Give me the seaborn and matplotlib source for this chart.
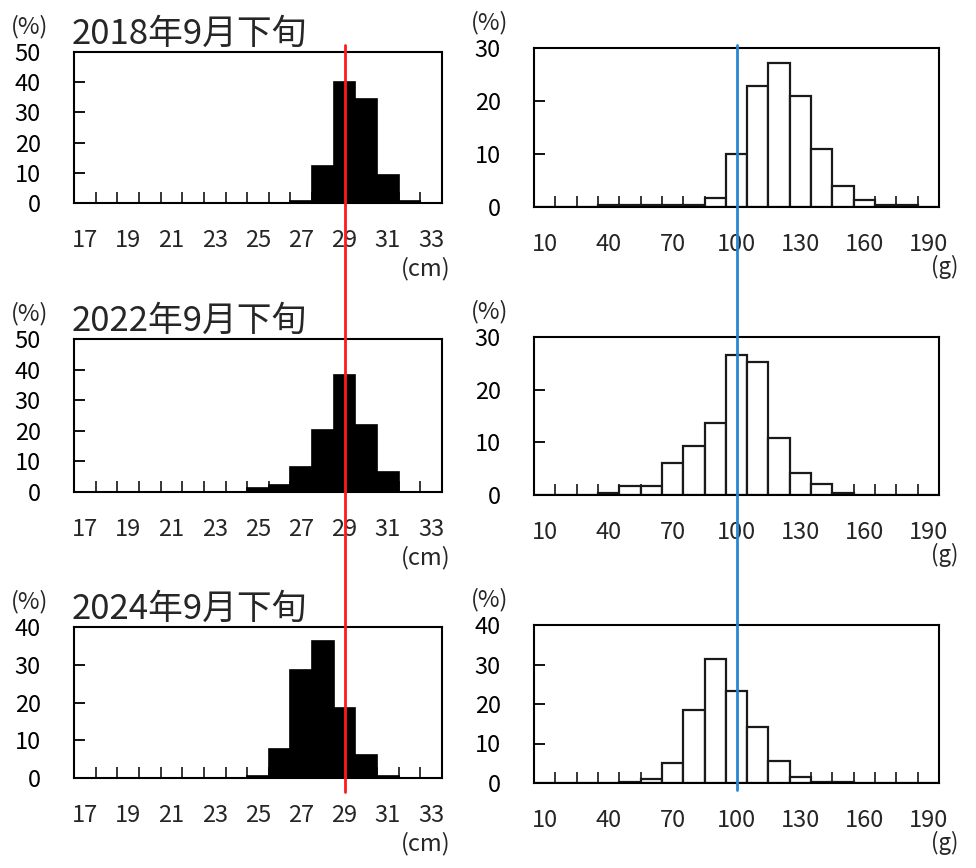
import numpy as np
import matplotlib
matplotlib.use("Agg")
import matplotlib.pyplot as plt
import matplotlib.transforms as mtransforms
from matplotlib.lines import Line2D
import pandas as pd
import seaborn as sns

# data: percent of fish in each size class
years = ["2018年9月下旬", "2022年9月下旬", "2024年9月下旬"]

len_classes = list(range(17, 34))  # cm, class centres
len_2018 = [0, 0, 0, 0, 0, 0, 0, 0, 0, 0, 0.6, 12.1, 40.0, 34.3, 9.4, 0.6, 0]
len_2022 = [0, 0, 0, 0, 0, 0, 0, 0, 1.4, 2.2, 8.2, 20.3, 38.3, 21.9, 6.5, 0, 0]
len_2024 = [0, 0, 0, 0, 0, 0, 0, 0, 0.5, 7.6, 28.6, 36.4, 18.5, 6.0, 0.6, 0, 0]

wt_classes = list(range(10, 200, 10))  # g, class centres
wt_2018 = [0, 0, 0, 0.3, 0.3, 0.3, 0.3, 0.3, 1.7, 10.0, 22.9, 27.2, 20.9, 11.0, 4.0, 1.4, 0.3, 0.3, 0]
wt_2022 = [0, 0, 0, 0.4, 1.8, 1.8, 6.0, 9.3, 13.7, 26.6, 25.3, 10.8, 4.2, 2.0, 0.4, 0, 0, 0, 0]
wt_2024 = [0, 0, 0, 0, 0.3, 1.0, 5.0, 18.4, 31.5, 23.3, 14.1, 5.6, 1.6, 0.3, 0.3, 0, 0, 0, 0]

len_ylims = [50, 50, 40]
wt_ylims = [30, 30, 40]
len_ticklabels = [17, 19, 21, 23, 25, 27, 29, 31, 33]
wt_ticklabels = [10, 40, 70, 100, 130, 160, 190]
ref_len = 29    # cm reference line
ref_wt = 100    # g reference line

sns.set_style("white")
plt.rcParams["font.family"] = ["Noto Sans CJK JP", "DejaVu Sans"]

W, H = 976, 868
fig = plt.figure(figsize=(W / 100, H / 100), dpi=100)


def box(l, t, r, b):
    return fig.add_axes([l / W, 1 - b / H, (r - l) / W, (b - t) / H])


left_boxes = [(74, 52, 442, 203), (74, 339, 442, 492), (74, 627, 442, 778)]
right_boxes = [(534, 48, 939, 207), (534, 337, 939, 495), (534, 625, 939, 783)]

len_data = [len_2018, len_2022, len_2024]
wt_data = [wt_2018, wt_2022, wt_2024]

len_range = (len_classes[0] - 0.5, len_classes[-1] + 0.5)
wt_range = (wt_classes[0] - 5, wt_classes[-1] + 5)

left_axes = []
right_axes = []


def style(ax, ymax, edges):
    for s in ax.spines.values():
        s.set_color("black")
        s.set_linewidth(1.5)
    ax.set_ylim(0, ymax)
    ax.set_yticks(np.arange(0, ymax + 1, 10))
    ax.set_xticks(edges[1:-1], minor=True)
    ax.tick_params(axis="y", direction="in", length=8, width=1.3,
                   pad=24, labelsize=17, colors="black", left=True)
    ax.tick_params(axis="x", which="major", length=0, pad=19, labelsize=17)
    ax.tick_params(axis="x", which="minor", direction="in", length=8,
                   width=1.3, bottom=True)
    ax.set_xlabel("")
    ax.set_ylabel("")
    ax.annotate("(%)", xy=(0, 1), xycoords="axes fraction",
                xytext=(-32, 10), textcoords="offset points",
                ha="center", va="bottom", fontsize=17)


for i in range(3):
    ax = box(*left_boxes[i])
    df = pd.DataFrame({"cm": len_classes, "pct": len_data[i]})
    sns.histplot(data=df, x="cm", weights="pct", binwidth=1, binrange=len_range,
                 ax=ax, color="black", edgecolor="black", linewidth=1.2, alpha=1)
    ax.set_xlim(*len_range)
    ax.set_xticks(len_ticklabels)
    style(ax, len_ylims[i], np.arange(len_range[0], len_range[1] + 0.5, 1))
    ax.annotate(years[i], xy=(0, 1), xycoords="axes fraction",
                xytext=(-2, 0), textcoords="offset points",
                ha="left", va="bottom", fontsize=25)
    ax.annotate("(cm)", xy=(1, 0), xycoords="axes fraction",
                xytext=(-12, -47), textcoords="offset points",
                ha="center", va="center", fontsize=17)
    left_axes.append(ax)

    ax = box(*right_boxes[i])
    df = pd.DataFrame({"g": wt_classes, "pct": wt_data[i]})
    sns.histplot(data=df, x="g", weights="pct", binwidth=10, binrange=wt_range,
                 ax=ax, color="white", edgecolor="#1a1a1a", linewidth=1.6, alpha=1)
    ax.set_xlim(*wt_range)
    ax.set_xticks(wt_ticklabels)
    style(ax, wt_ylims[i], np.arange(wt_range[0], wt_range[1] + 5, 10))
    ax.annotate("(g)", xy=(1, 0), xycoords="axes fraction",
                xytext=(4, -43), textcoords="offset points",
                ha="center", va="center", fontsize=16)
    right_axes.append(ax)

# reference lines running through all three rows
tr_len = mtransforms.blended_transform_factory(left_axes[0].transData, fig.transFigure)
fig.add_artist(Line2D([ref_len, ref_len], [1 - 45 / H, 1 - 792 / H],
                      transform=tr_len, color="#ff1a1a", linewidth=2))
tr_wt = mtransforms.blended_transform_factory(right_axes[0].transData, fig.transFigure)
fig.add_artist(Line2D([ref_wt, ref_wt], [1 - 45 / H, 1 - 790 / H],
                      transform=tr_wt, color="#2a86d0", linewidth=2))

fig.savefig("out.png", dpi=100)
